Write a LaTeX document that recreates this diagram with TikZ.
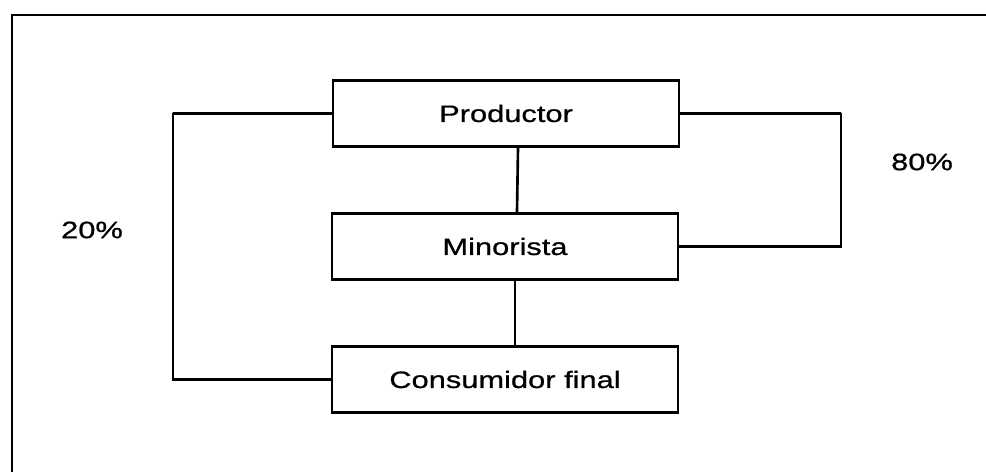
\documentclass[tikz,border=0pt]{standalone}
\usepackage{fontspec}
\setmainfont{Liberation Sans}[FakeStretch=1.3,FakeBold=0.8]
\usetikzlibrary{calc}

\begin{document}
\begin{tikzpicture}[x=0.02cm,y=-0.02cm,line width=1.5pt,
        canal/.style={draw,line width=1.6pt,minimum width=6.92cm,minimum height=1.32cm,inner sep=0pt},
        every node/.style={font=\fontsize{13.5}{16}\selectfont}]
        \useasboundingbox (0,0) rectangle (986,472);
        \coordinate (frameb) at (12,472);
        \coordinate (framec) at (12,15);
        \coordinate (framer) at (986,15);
        \coordinate (lturn) at (173,113);
        \coordinate (rturn) at (841,113);

        \node[canal] (prod) at (506,113.5) {Productor};
        \node[canal] (mino) at (505,246.5) {Minorista};
        \node[canal] (cons) at (505,379.5) {Consumidor final};

        \draw (frameb)--(framec)--(framer);
        \draw ([xshift=0.24cm]prod.south)--([xshift=0.24cm]mino.north);
        \draw ([xshift=0.2cm]mino.south)--([xshift=0.2cm]cons.north);
        \draw (prod.west) -| (lturn) |- (cons.west);
        \draw (prod.east) -| (rturn) |- (mino.east);

        \node (veinte) at (92,230) {20\%};
        \node (ochenta) at (922,162) {80\%};
    \end{tikzpicture}
\end{document}
